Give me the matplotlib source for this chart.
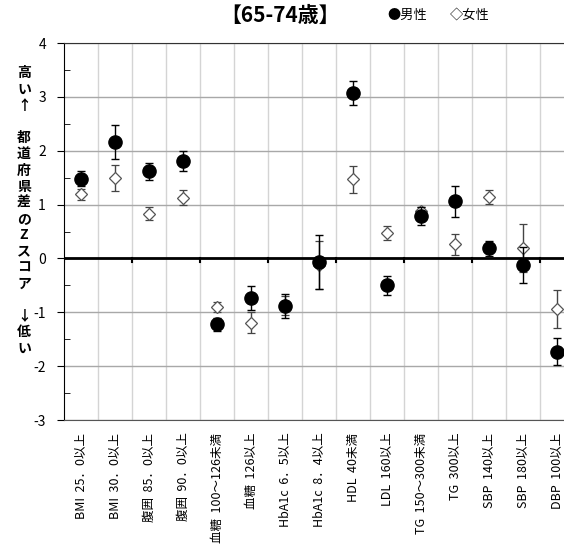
import numpy as np
import matplotlib; matplotlib.use("Agg")
import matplotlib.pyplot as plt
plt.rcParams["font.family"] = ["Noto Sans CJK JP", "DejaVu Sans"]; plt.rcParams["axes.unicode_minus"] = False

# ----------------------------- データ -----------------------------
labels = ["BMI  25．0以上", "BMI  30．0以上", "腹囲  85．0以上", "腹囲  90．0以上", "血糖  100～126未満",
          "血糖  126以上", "HbA1c  6．5以上", "HbA1c  8．4以上", "HDL  40未満", "LDL  160以上",
          "TG  150～300未満", "TG  300以上", "SBP  140以上", "SBP  180以上", "DBP  100以上"]
male     = [1.48, 2.16, 1.62, 1.81, -1.22, -0.74, -0.88, -0.07, 3.07, -0.50, 0.79, 1.06, 0.19, -0.12, -1.73]
male_err = [0.14, 0.32, 0.16, 0.18, 0.12, 0.22, 0.22, 0.50, 0.22, 0.17, 0.16, 0.29, 0.14, 0.33, 0.25]
female     = [1.19, 1.50, 0.83, 1.13, -0.90, -1.19, -0.87, -0.12, 1.47, 0.47, 0.88, 0.26, 1.14, 0.19, -0.94]
female_err = [0.10, 0.24, 0.12, 0.14, 0.10, 0.20, 0.18, 0.45, 0.25, 0.13, 0.08, 0.19, 0.13, 0.45, 0.36]

# ----------------------------- 描画 -----------------------------
fig = plt.figure(figsize=(5.64, 5.51), dpi=100)
ax = fig.add_axes([0.1135, 0.2377, 0.9043, 0.6842])
x = np.arange(len(labels)) + 0.5

ax.set_xlim(0, len(labels)); ax.set_ylim(-3, 4)
for k in range(1, len(labels)):
    ax.axvline(k, color="#d4d4d4", lw=1, zorder=0)
for v in range(-3, 5):
    ax.axhline(v, color="#a8a8a8", lw=1, zorder=0)
ax.axhline(0, color="black", lw=2, zorder=1)
# 横軸(0)上の目盛り
for k in range(0, len(labels) + 1, 2):
    ax.plot([k, k], [0, -0.06], color="black", lw=1.5, zorder=1)

ax.errorbar(x, female, yerr=female_err, fmt="D", ms=6.5, mfc="white", mec="#555555", mew=0.9,
            ecolor="#444444", elinewidth=1, capsize=3, capthick=1, zorder=3)
ax.errorbar(x, male, yerr=male_err, fmt="o", ms=9.5, mfc="black", mec="black",
            ecolor="black", elinewidth=1, capsize=3, capthick=1, zorder=4)

ax.set_xticks(x); ax.set_xticklabels(labels, rotation=90, fontsize=9, va="top")
ax.tick_params(axis="x", length=0, pad=9)
ax.set_yticks(range(-3, 5)); ax.set_yticks(np.arange(-3, 4.01, 0.5), minor=True)
ax.tick_params(axis="y", which="major", direction="out", length=5, labelsize=10, pad=8)
ax.tick_params(axis="y", which="minor", direction="in", length=4)
ax.spines["left"].set_color("black"); ax.spines["top"].set_color("#333333")
ax.spines["bottom"].set_color("#555555"); ax.spines["right"].set_visible(False)

# 縦書きの軸ラベル
ylab = "高\nい\n↑\n\n都\n道\n府\n県\n差\nの\nZ\nス\nコ\nア\n\n↓\n低\nい"
fig.text(24/564, 1 - 211/551, ylab, ha="center", va="center", fontsize=10, fontweight="bold", linespacing=1.2)

fig.text(280/564, 1 - 15/551, "【65-74歳】", ha="center", va="center", fontsize=15, fontweight="bold")
fig.text(407/564, 1 - 15/551, "●男性", ha="center", va="center", fontsize=9.5)
fig.text(470/564, 1 - 15/551, "◇女性", ha="center", va="center", fontsize=9.5)

fig.savefig("out.png", dpi=100)
